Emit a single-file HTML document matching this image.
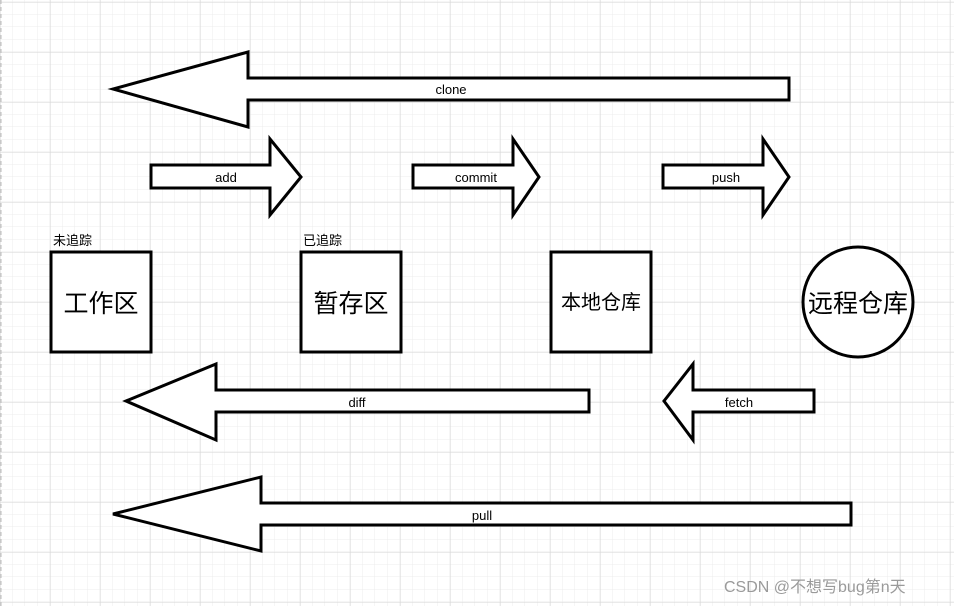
<!DOCTYPE html>
<html><head><meta charset="utf-8"><style>
html,body{margin:0;padding:0;background:#fff}
svg{display:block}
text{font-family:"Liberation Sans","Noto Sans CJK SC",sans-serif;fill:#000}
</style></head><body>
<svg width="954" height="606" viewBox="0 0 954 606" xmlns="http://www.w3.org/2000/svg">
<defs>
<pattern id="minor" x="0" y="2" width="12.5" height="12.5" patternUnits="userSpaceOnUse">
<path d="M12.5 0V12.5M0 12.5H12.5" stroke="#ececec" stroke-width="1" fill="none"/>
</pattern>
<pattern id="major" x="0" y="2" width="50" height="50" patternUnits="userSpaceOnUse">
<path d="M0 0V50M0 0H50" stroke="#d6d6d6" stroke-width="1" fill="none"/>
</pattern>
</defs>
<rect width="954" height="606" fill="#fff"/>
<rect width="954" height="606" fill="url(#minor)"/>
<rect width="954" height="606" fill="url(#major)"/>
<line x1="1" y1="0" x2="1" y2="606" stroke="#bbb" stroke-width="1" stroke-dasharray="4,3"/>
<g fill="#fff" stroke="#000" stroke-width="3" stroke-linejoin="miter">
<!-- clone -->
<polygon points="789,78 248,78 248,52 113,89 248,127 248,100 789,100"/>
<!-- add -->
<polygon points="151,165 270,165 270,139 301,177 270,215 270,188 151,188"/>
<!-- commit -->
<polygon points="413,165 513,165 513,139 539,177 513,215 513,188 413,188"/>
<!-- push -->
<polygon points="663,165 763,165 763,139 789,177 763,215 763,188 663,188"/>
<!-- diff -->
<polygon points="589,390 216,390 216,364 126,401 216,440 216,412 589,412"/>
<!-- fetch -->
<polygon points="814,390 693,390 693,364 664,401 693,440 693,412 814,412"/>
<!-- pull -->
<polygon points="851,503 261,503 261,477 113,514 261,551 261,525 851,525"/>
<rect x="51" y="252" width="100" height="100"/>
<rect x="301" y="252" width="100" height="100"/>
<rect x="551" y="252" width="100" height="100"/>
<circle cx="858" cy="302" r="55"/>
</g>
<g font-size="13" text-anchor="middle">
<text x="451" y="94">clone</text>
<text x="226" y="182">add</text>
<text x="476" y="182">commit</text>
<text x="726" y="182">push</text>
<text x="357" y="407">diff</text>
<text x="739" y="407">fetch</text>
<text x="482" y="520">pull</text>
</g>
<text x="53" y="245" font-size="13">未追踪</text>
<text x="303" y="245" font-size="13">已追踪</text>
<g text-anchor="middle">
<text x="101" y="312" font-size="25">工作区</text>
<text x="351" y="312" font-size="25">暂存区</text>
<text x="601" y="309" font-size="20">本地仓库</text>
<text x="858" y="312" font-size="25">远程仓库</text>
</g>
<text x="724" y="592" font-size="16" fill="#999" style="fill:#9a9a9a">CSDN @不想写bug第n天</text>
</svg>
</body></html>
